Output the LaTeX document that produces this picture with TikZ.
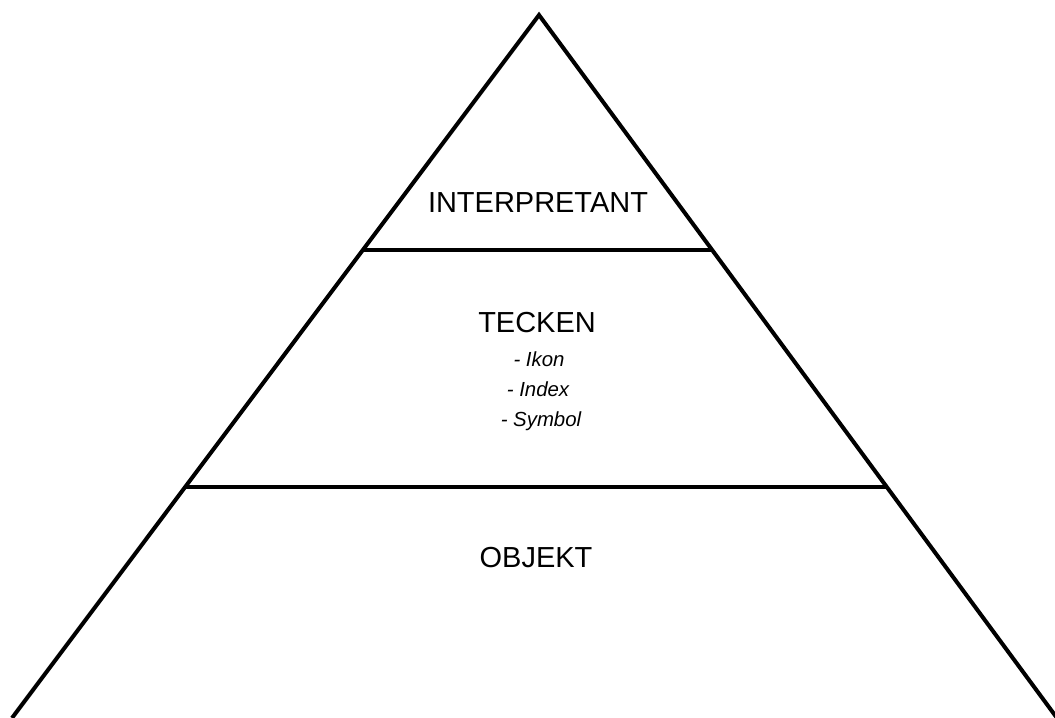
\documentclass[tikz,border=0pt]{standalone}
\usepackage{fontspec}
\setmainfont{Liberation Sans}
\usetikzlibrary{calc}
\begin{document}
\begin{tikzpicture}[x=.025cm, y=-.025cm, line width=2.85pt,
  tiertext/.style={anchor=base, inner sep=0pt, font=\fontsize{20.6}{24}\selectfont},
  kindtext/.style={anchor=base, inner sep=0pt, font=\fontsize{14.5}{17}\selectfont\itshape}]
\useasboundingbox (0,0) rectangle (1055,718);
\coordinate (top) at (539,15);
\coordinate (bl) at (12,718);
\coordinate (br) at (1057,718);
\draw (bl)--(top)--(br);
\draw ($(top)!.3343!(bl)$)--($(top)!.3343!(br)$);
\draw ($(top)!.6714!(bl)$)--($(top)!.6714!(br)$);
\node[tiertext] (interp) at (538,212) {INTERPRETANT};
\node[tiertext] (tecken) at (537,332) {TECKEN};
\node[kindtext] (ikon) at (539,366) {- Ikon};
\node[kindtext] (index) at (538,396) {- Index};
\node[kindtext] (symbol) at (541,426) {- Symbol};
\node[tiertext] (objekt) at (536,567) {OBJEKT};
\end{tikzpicture}
\end{document}
